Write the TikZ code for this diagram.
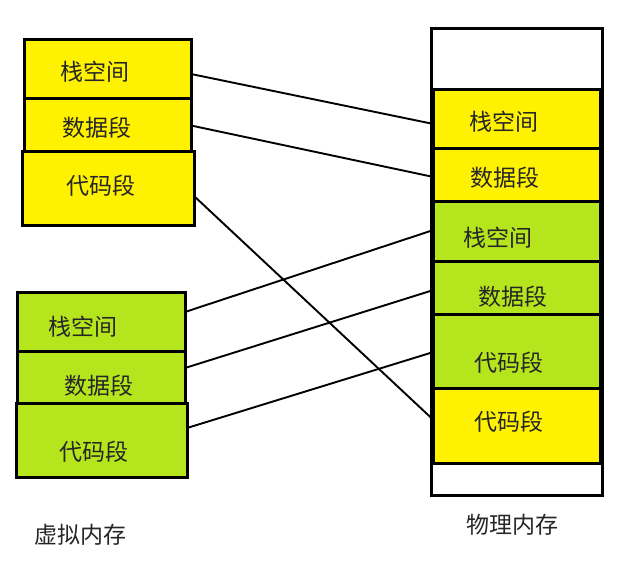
\documentclass[tikz,border=0pt]{standalone}
\usepackage{fontspec}
\newfontfamily\cjk{Noto Sans CJK SC}
\definecolor{yel}{RGB}{255,242,0}
\definecolor{grn}{RGB}{181,230,29}
\begin{document}
\begin{tikzpicture}[x=1pt,y=-1pt,
  box/.style={draw=black,line width=3pt,inner sep=0pt,outer sep=0pt,anchor=center},
  lbl/.style={inner sep=0pt,font=\cjk\fontsize{23}{23}\selectfont,text=black!85},
  conn/.style={draw=black,line width=1.9pt}]
\useasboundingbox (0,0) rectangle (626,561);
% left yellow group
\node[box,fill=yel,minimum width=167pt,minimum height=59pt] (ys1) at (107.5,69.5) {};
\node[box,fill=yel,minimum width=167pt,minimum height=53pt] (ys2) at (107.5,125.5) {};
\node[box,fill=yel,minimum width=172pt,minimum height=74pt] (ys3) at (108,189) {};
% left green group
\node[box,fill=grn,minimum width=168pt,minimum height=59pt] (gs1) at (101,321.5) {};
\node[box,fill=grn,minimum width=168pt,minimum height=52pt] (gs2) at (101,377) {};
\node[box,fill=grn,minimum width=171pt,minimum height=74pt] (gs3) at (101.5,440) {};
% physical memory
\node[box,fill=white,minimum width=171pt,minimum height=466pt] (pm) at (516.5,262) {};
\node[box,fill=yel,minimum width=167pt,minimum height=59pt] (py1) at (517,119.5) {};
\node[box,fill=yel,minimum width=167pt,minimum height=53pt] (py2) at (517,175.5) {};
\node[box,fill=grn,minimum width=167pt,minimum height=60pt] (pg1) at (517,232) {};
\node[box,fill=grn,minimum width=167pt,minimum height=52pt] (pg2) at (517,288) {};
\node[box,fill=grn,minimum width=167pt,minimum height=74pt] (pg3) at (517,351) {};
\node[box,fill=yel,minimum width=167pt,minimum height=75pt] (py3) at (517,425.5) {};
% labels
\node[lbl] (tys1) at (95,72) {栈空间};
\node[lbl] (tys2) at (97,128) {数据段};
\node[lbl] (tys3) at (101,186) {代码段};
\node[lbl] (tgs1) at (83,327) {栈空间};
\node[lbl] (tgs2) at (99,386) {数据段};
\node[lbl] (tgs3) at (94,452) {代码段};
\node[lbl] (tpy1) at (504,122) {栈空间};
\node[lbl] (tpy2) at (505,178) {数据段};
\node[lbl] (tpg1) at (498,238) {栈空间};
\node[lbl] (tpg2) at (513,297) {数据段};
\node[lbl] (tpg3) at (509,363) {代码段};
\node[lbl] (tpy3) at (509,422) {代码段};
\node[lbl] (tvm) at (80,535) {虚拟内存};
\node[lbl] (tpm) at (512,525) {物理内存};
% connectors
\draw[conn] ([yshift=-4.5pt]ys1.east) -- ([yshift=-4.5pt]py1.west);
\draw[conn] (ys2.east) -- ([yshift=-1.5pt]py2.west);
\draw[conn] ([yshift=-7pt]ys3.east) -- ([yshift=5.5pt]py3.west);
\draw[conn] ([yshift=9.5pt]gs1.east) -- ([yshift=2pt]pg1.west);
\draw[conn] ([yshift=9pt]gs2.east) -- ([yshift=-2pt]pg2.west);
\draw[conn] ([yshift=12pt]gs3.east) -- ([yshift=-1pt]pg3.west);
\end{tikzpicture}
\end{document}
